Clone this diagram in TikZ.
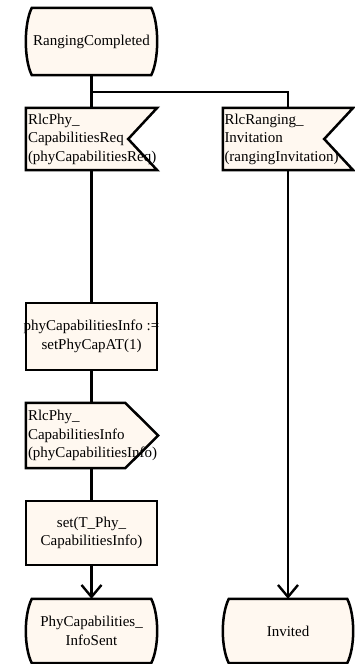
\documentclass[tikz,border=0pt]{standalone}
\usepackage{fontspec}
\setmainfont{Liberation Serif}
\usetikzlibrary{arrows.meta,backgrounds,calc}
\definecolor{cream}{RGB}{255,248,240}
\newcommand\drawstate[1]{\path[shp] ($(#1.north west)+(6,0)$) -- ($(#1.north east)+(-6,0)$)
  .. controls ($(#1.north east)+(2,16)$) and ($(#1.south east)+(2,-16)$) .. ($(#1.south east)+(-6,0)$)
  -- ($(#1.south west)+(6,0)$)
  .. controls ($(#1.south west)+(-2,-16)$) and ($(#1.north west)+(-2,16)$) .. cycle;}
\newcommand\drawinput[1]{\path[shp] (#1.north west) -- (#1.north east) -- ($(#1.east)+(-29,0)$) -- (#1.south east) -- (#1.south west) -- cycle;}
\newcommand\drawoutput[1]{\path[shp] (#1.north west) -- ($(#1.north east)+(-32,0)$) -- ($(#1.east)+(1,0)$) -- ($(#1.south east)+(-32,0)$) -- (#1.south west) -- cycle;}
\newcommand\drawtask[1]{\path[shp] (#1.north west) rectangle (#1.south east);}
\begin{document}
\begin{tikzpicture}[x=1pt,y=-1pt,
  lbl/.style={inner sep=0pt, font=\fontsize{15}{18.5}\selectfont, text=black},
  st/.style={lbl, minimum width=131pt, minimum height=64pt, align=center},
  tsk/.style={lbl, minimum width=131pt, minimum height=67pt, align=center},
  inp/.style={lbl, minimum width=131pt, minimum height=62pt, text width=127pt, align=left},
  shp/.style={draw=black, fill=cream, line width=2.5pt, line join=miter},
  conn/.style={draw=black, line width=2.4pt},
  arr/.style={conn, -{Straight Barb[length=12pt,width=20pt,line width=2.4pt]}}]
\useasboundingbox (0,0) rectangle (355,664);
\node[st, minimum height=67pt] (rc) at (91.5,41.5) {RangingCompleted};
\node[inp] (req) at (91.5,139) {RlcPhy\_\\CapabilitiesReq\\(phyCapabilitiesReq)};
\node[inp, minimum width=130pt] (inv) at (288,139) {RlcRanging\_\\Invitation\\(rangingInvitation)};
\node[tsk] (t1) at (91.5,336.5) {\makebox[0pt]{phyCapabilitiesInfo :=}\\setPhyCapAT(1)};
\node[inp, minimum height=65pt] (out) at (91.5,435.5) {RlcPhy\_\\CapabilitiesInfo\\(phyCapabilitiesInfo)};
\node[tsk, minimum height=64pt] (t2) at (91.5,533) {set(T\_Phy\_\\CapabilitiesInfo)};
\node[st] (s1) at (91.5,631) {PhyCapabilities\_\\InfoSent};
\node[st, minimum width=130pt] (s2) at (288,631) {Invited};
\coordinate (br) at (91.5,92);
\begin{scope}[on background layer]
\drawstate{rc}
\drawinput{req}
\drawinput{inv}
\drawtask{t1}
\drawoutput{out}
\drawtask{t2}
\drawstate{s1}
\drawstate{s2}
\end{scope}
\draw[conn] (rc.south) -- (req.north);
\draw[conn] (br) -| (inv.north);
\draw[conn] (req.south) -- (t1.north);
\draw[conn] (t1.south) -- (out.north);
\draw[conn] (out.south) -- (t2.north);
\draw[arr] (t2.south) -- (s1.north);
\draw[arr] (inv.south) -- (s2.north);
\end{tikzpicture}
\end{document}
